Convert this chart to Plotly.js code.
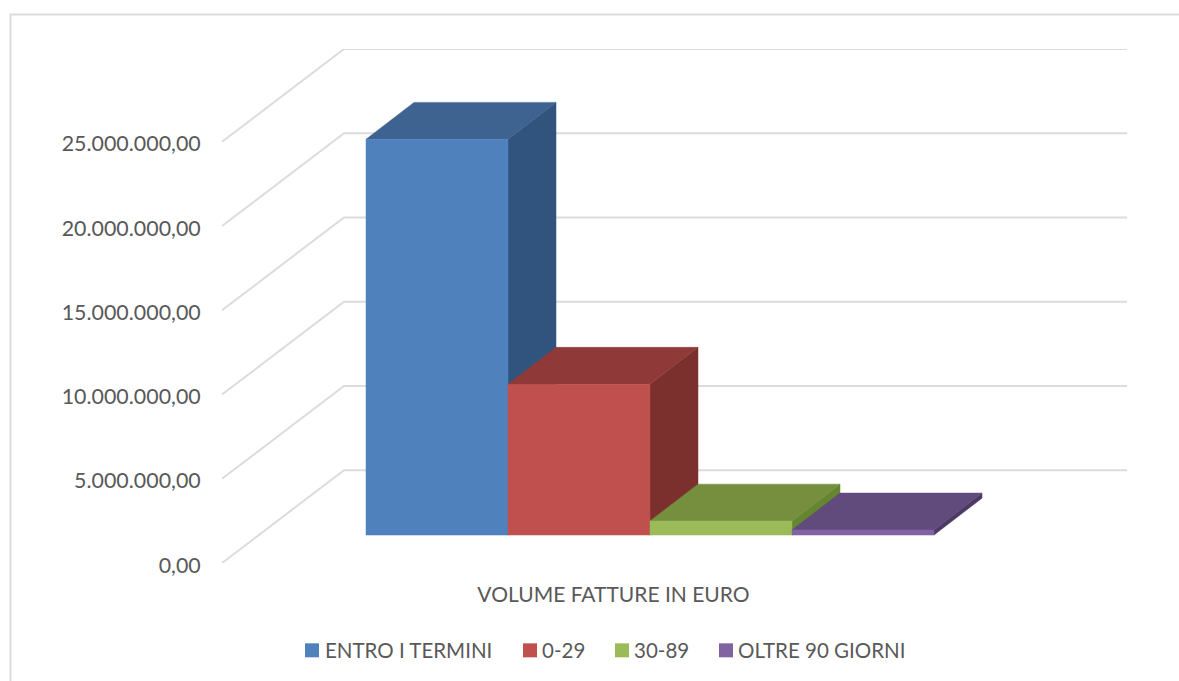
<!DOCTYPE html>
<html>
<head>
<meta charset="utf-8">
<script src="https://cdn.plot.ly/plotly-3.0.1.min.js"></script>
<style>html,body{margin:0;padding:0;background:#fff;overflow:hidden}#chart{width:1179px;height:681px}</style>
</head>
<body>
<div id="chart"></div>
<script>
// --- data ---
const categories = ["ENTRO I TERMINI", "0-29", "30-89", "OLTRE 90 GIORNI"];
const values = [23490000, 8950000, 830000, 300000];
const tickValues = [0, 5000000, 10000000, 15000000, 20000000, 25000000];
const tickLabels = ["0,00", "5.000.000,00", "10.000.000,00", "15.000.000,00", "20.000.000,00", "25.000.000,00"];
const axisLabel = "VOLUME FATTURE IN EURO";

// --- styles ---
const frontColors = ["#4f81bd", "#c0504d", "#9bbb59", "#8064a2"];
const topColors = ["#3e6390", "#8f3a38", "#768f3f", "#614a7c"];
const sideColors = ["#30547d", "#7b302e", "#66852f", "#4c3a63"];
const gridColor = "#dcdcdc";
const textColor = "#595959";
const fontFamily = "Lato, Carlito, 'Open Sans', sans-serif";
const fontSize = 21;
const tickFontSize = 21.4;
const legendFontSize = 20.5;

// --- layout geometry (page pixels) ---
const W = 1179, H = 681;
const plot = {l: 222, r: 1127, t: 48.5, b: 563.5};
const pxPerUnit = 142;                 // one category width
const pxPerValue = 84.4 / 5000000;     // vertical scale
const xMax = (plot.r - plot.l) / pxPerUnit;
const yMax = (plot.b - plot.t) / pxPerValue;
const wallDX = 122 / pxPerUnit, wallDY = 93 / pxPerValue;   // oblique wall depth
const barStart = (366 - plot.l) / pxPerUnit;
const baseY = 28 / pxPerValue;         // bars' front baseline above the front floor edge
const barDX = 48 / pxPerUnit, barDY = 37 / pxPerValue;      // bar depth
const paperX = p => (p - plot.l) / (plot.r - plot.l);
const paperY = p => (plot.b - p) / (plot.b - plot.t);

const traces = [];

// gridlines: side wall then back wall
const gx = [], gy = [];
tickValues.forEach(v => {
  gx.push(0, wallDX, xMax, null);
  gy.push(v, v + wallDY, v + wallDY, null);
});
traces.push({type: "scatter", mode: "lines", x: gx, y: gy, cliponaxis: false,
  line: {color: gridColor, width: 2}, hoverinfo: "skip", showlegend: false});

function face(xs, ys, color, name) {
  traces.push({type: "scatter", mode: "lines", x: xs.concat(xs[0]), y: ys.concat(ys[0]),
    fill: "toself", fillcolor: color, line: {color: color, width: 0.5}, cliponaxis: false,
    name: name, showlegend: false, hoverinfo: "skip"});
}

categories.forEach((c, i) => {
  const x0 = barStart + i, x1 = x0 + 1;
  const y0 = baseY, y1 = baseY + values[i];
  face([x1, x1 + barDX, x1 + barDX, x1], [y0, y0 + barDY, y1 + barDY, y1], sideColors[i], c);
  face([x0, x0 + barDX, x1 + barDX, x1], [y1, y1 + barDY, y1 + barDY, y1], topColors[i], c);
  face([x0, x1, x1, x0], [y0, y0, y1, y1], frontColors[i], c);
});

// legend
const swatchX = [305, 523, 615, 719];
const labelX = [325, 542, 634, 738];
const legendY = 651;
const shapes = [{
  type: "path", xref: "paper", yref: "paper",
  path: `M ${paperX(10.5)} ${paperY(H + 5)} L ${paperX(10.5)} ${paperY(14)} L ${paperX(W + 5)} ${paperY(14)}`,
  line: {color: gridColor, width: 2}
}];
const annotations = [];
categories.forEach((c, i) => {
  shapes.push({type: "rect", xref: "paper", yref: "paper",
    x0: paperX(swatchX[i]), x1: paperX(swatchX[i] + 14),
    y0: paperY(legendY - 7), y1: paperY(legendY + 7),
    fillcolor: frontColors[i], line: {width: 0}});
  annotations.push({xref: "paper", yref: "paper", x: paperX(labelX[i]), y: paperY(legendY),
    text: c, showarrow: false, xanchor: "left", yanchor: "middle",
    xshift: -2, font: {family: fontFamily, size: legendFontSize, color: textColor}});
});

const layout = {
  width: W, height: H, autosize: false,
  margin: {l: plot.l, r: W - plot.r, t: plot.t, b: H - plot.b, pad: 0},
  paper_bgcolor: "#ffffff", plot_bgcolor: "rgba(0,0,0,0)",
  showlegend: false,
  font: {family: fontFamily, size: fontSize, color: textColor},
  xaxis: {
    range: [0, xMax], fixedrange: true, showgrid: false, zeroline: false, showline: false,
    tickmode: "array", tickvals: [(613.5 - plot.l) / pxPerUnit], ticktext: [axisLabel],
    ticks: "outside", ticklen: 13, tickcolor: "rgba(0,0,0,0)", tickfont: {family: fontFamily, size: fontSize, color: textColor}
  },
  yaxis: {
    range: [0, yMax], fixedrange: true, showgrid: false, zeroline: false, showline: false,
    tickmode: "array", tickvals: tickValues, ticktext: tickLabels, ticklabelshift: 2,
    ticks: "outside", ticklen: 16, tickcolor: "rgba(0,0,0,0)", tickfont: {family: fontFamily, size: tickFontSize, color: textColor}
  },
  shapes: shapes,
  annotations: annotations
};

Plotly.newPlot("chart", traces, layout, {displayModeBar: false, staticPlot: true});
</script>
</body>
</html>
